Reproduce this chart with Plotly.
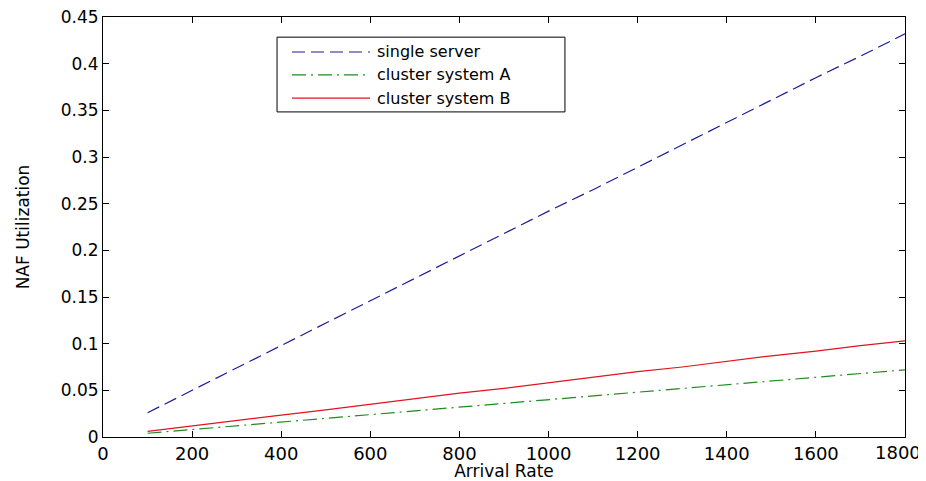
import plotly.graph_objects as go

arrival_rate = [100, 200, 300, 400, 500, 600, 700, 800, 900, 1000,
                1100, 1200, 1300, 1400, 1500, 1600, 1700, 1800]
single_server = [0.026, 0.050, 0.074, 0.098, 0.122, 0.146, 0.170, 0.194, 0.218,
                 0.242, 0.265, 0.289, 0.313, 0.337, 0.361, 0.385, 0.408, 0.432]
cluster_a = [0.004, 0.008, 0.012, 0.016, 0.020, 0.024, 0.028, 0.032, 0.036,
             0.040, 0.044, 0.048, 0.052, 0.056, 0.060, 0.064, 0.068, 0.072]
cluster_b = [0.006, 0.012, 0.018, 0.0235, 0.029, 0.035, 0.041, 0.047, 0.052,
             0.058, 0.064, 0.070, 0.075, 0.081, 0.087, 0.092, 0.098, 0.103]
series_names = ["single server", "cluster system A", "cluster system B"]
x_ticks = [0, 200, 400, 600, 800, 1000, 1200, 1400, 1600, 1800]
# the last label is drawn as an annotation, nudged left as in the original
x_tick_text = ["0", "200", "400", "600", "800", "1000", "1200", "1400", "1600", ""]
x_last_label = "1800"
y_ticks = [0, 0.05, 0.1, 0.15, 0.2, 0.25, 0.3, 0.35, 0.4, 0.45]
y_tick_text = ["0", "0.05", "0.1", "0.15", "0.2", "0.25", "0.3", "0.35", "0.4", "0.45"]

colors = ["#1c1c9c", "#1f8a1f", "#e0141e"]
dashes = ["13px,6px", "14px,5px,2px,5px", "solid"]
values = [single_server, cluster_a, cluster_b]

FONT = "DejaVu Sans"

fig = go.Figure()
for name, ys, c, d in zip(series_names, values, colors, dashes):
    fig.add_trace(go.Scatter(x=arrival_rate, y=ys, mode="lines", name=name,
                             line=dict(color=c, width=1.2, dash=d),
                             showlegend=False))

# Manual legend box (MATLAB style)
lx0, lx1 = 0.217, 0.576
ly0, ly1 = 0.774, 0.952
shapes = [dict(type="rect", xref="paper", yref="paper", x0=lx0, x1=lx1, y0=ly0, y1=ly1,
               line=dict(color="black", width=1), fillcolor="white", layer="above")]
annotations = []
row_y = [0.9167, 0.862, 0.807]
for name, c, d, ry in zip(series_names, colors, dashes, row_y):
    shapes.append(dict(type="line", xref="paper", yref="paper", x0=0.2357, x1=0.333,
                       y0=ry, y1=ry, line=dict(color=c, width=1.2, dash=d), layer="above"))
    annotations.append(dict(xref="paper", yref="paper", x=0.339, y=ry, text=name,
                            showarrow=False, xanchor="left", yanchor="middle",
                            font=dict(family=FONT, size=16, color="black")))

annotations.append(dict(xref="x", yref="paper", x=x_ticks[-1], y=0, text=x_last_label,
                        showarrow=False, xanchor="center", yanchor="top",
                        xshift=-7, yshift=-3,
                        font=dict(family=FONT, size=18, color="black")))

fig.update_layout(
    width=918, height=473,
    margin=dict(l=95, r=21, t=9, b=44),
    paper_bgcolor="white", plot_bgcolor="white",
    shapes=shapes, annotations=annotations,
    font=dict(family=FONT, color="black"),
    xaxis=dict(range=[0, 1800], tickvals=x_ticks, ticktext=x_tick_text,
               ticks="inside", ticklen=6,
               tickcolor="black", showline=True, linecolor="black", linewidth=1,
               mirror="ticks", showgrid=False, zeroline=False, automargin=False,
               ticklabeloverflow="allow",
               tickfont=dict(family=FONT, size=18, color="black"),
               title=dict(text="Arrival Rate", font=dict(family=FONT, size=17), standoff=0)),
    yaxis=dict(range=[0, 0.45], tickvals=y_ticks, ticktext=y_tick_text, ticks="inside",
               ticklen=6, tickcolor="black", showline=True, linecolor="black", linewidth=1,
               mirror="ticks", showgrid=False, zeroline=False, automargin=False,
               ticklabeloverflow="allow",
               tickfont=dict(family=FONT, size=17, color="black"),
               title=dict(text="NAF Utilization", font=dict(family=FONT, size=17), standoff=26)),
)

fig.write_html("out.html")
